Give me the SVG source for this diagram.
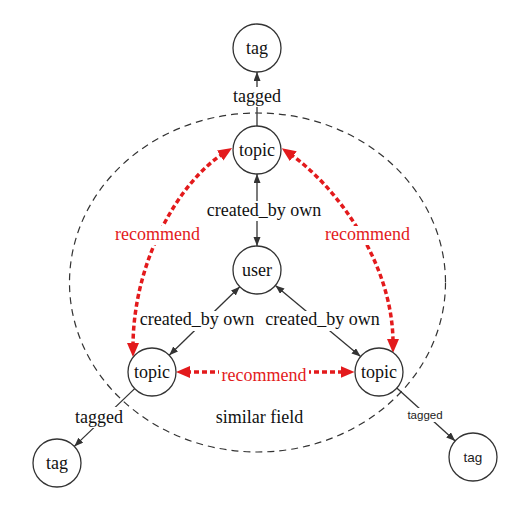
<svg xmlns="http://www.w3.org/2000/svg" width="519" height="507" viewBox="0 0 519 507">
<style>
.node circle{fill:#fff;stroke:#333;stroke-width:1.3}
.t{font-family:"Liberation Serif","Times New Roman",serif;font-size:18px;fill:#111;text-anchor:middle}
.s{font-family:"Liberation Sans",Arial,sans-serif;fill:#222;text-anchor:middle}
.red{fill:#e31a1c}
.e{stroke:#333;stroke-width:1.3;fill:none}
.r{stroke:#e31a1c;stroke-width:3.5;fill:none;stroke-dasharray:5,3}
.bg{fill:#fff}
</style>
<defs>
<marker id="a" markerUnits="userSpaceOnUse" markerWidth="10" markerHeight="8" refX="9" refY="3.5" orient="auto-start-reverse"><path d="M0,0 L9,3.5 L0,7 z" fill="#333"/></marker>
<marker id="ra" markerUnits="userSpaceOnUse" markerWidth="16" markerHeight="14" refX="4" refY="6" orient="auto-start-reverse"><path d="M0,0 L14,6 L0,12 z" fill="#e31a1c"/></marker>
</defs>
<ellipse cx="257.5" cy="282.5" rx="188" ry="169.5" fill="none" stroke="#333" stroke-width="1.2" stroke-dasharray="7,5"/>
<g id="connectors">
<path class="e" d="M257,126 L257,72" marker-end="url(#a)"/>
<path class="e" d="M257,174 L257,246" marker-start="url(#a)" marker-end="url(#a)"/>
<path class="e" d="M239.8,286.7 L169.2,355.3" marker-start="url(#a)" marker-end="url(#a)"/>
<path class="e" d="M275.4,285.4 L360.6,356.6" marker-start="url(#a)" marker-end="url(#a)"/>
<path class="e" d="M134.7,388.6 L74.3,446.4" marker-end="url(#a)"/>
<path class="e" d="M396.8,388.1 L455.2,440.9" marker-end="url(#a)"/>
<path class="r" d="M223.6,153.4 C180,181 133,260 133,347" marker-start="url(#ra)" marker-end="url(#ra)"/>
<path class="r" d="M290,154 C335,185 393,262 393,343" marker-start="url(#ra)" marker-end="url(#ra)"/>
<path class="r" d="M186,372 L344.5,372" marker-start="url(#ra)" marker-end="url(#ra)"/>
<rect class="bg" x="231" y="87" width="52" height="20"/>
<text class="t" x="257" y="102">tagged</text>
<rect class="bg" x="205" y="201" width="118" height="20"/>
<text class="t" x="264" y="216">created_by own</text>
<rect class="bg" x="138" y="311" width="118" height="20"/>
<text class="t" x="197" y="325">created_by own</text>
<rect class="bg" x="264" y="311" width="118" height="20"/>
<text class="t" x="322.5" y="325">created_by own</text>
<rect class="bg" x="113" y="226" width="89" height="19"/>
<text class="t red" x="157.5" y="240">recommend</text>
<rect class="bg" x="323" y="226" width="89" height="19"/>
<text class="t red" x="367.5" y="240">recommend</text>
<rect class="bg" x="219" y="364" width="90" height="19"/>
<text class="t red" x="264" y="381">recommend</text>
<rect class="bg" x="74" y="407" width="51" height="21"/>
<text class="t" x="99" y="423">tagged</text>
<rect class="bg" x="406" y="408" width="39" height="14"/>
<text class="s" x="425" y="419" font-size="11.5">tagged</text>
</g>
<text class="t" x="259.5" y="423">similar field</text>
<g id="tag_top" class="node"><circle cx="257" cy="48" r="24"/><text class="t" x="257" y="54">tag</text></g>
<g id="topic_top" class="node"><circle cx="257" cy="150" r="24"/><text class="t" x="257" y="156">topic</text></g>
<g id="user" class="node"><circle cx="257" cy="270" r="24"/><text class="t" x="257" y="276">user</text></g>
<g id="topic_left" class="node"><circle cx="152" cy="372" r="24"/><text class="t" x="152" y="378">topic</text></g>
<g id="topic_right" class="node"><circle cx="379" cy="372" r="24"/><text class="t" x="379" y="378">topic</text></g>
<g id="tag_left" class="node"><circle cx="57" cy="463" r="24"/><text class="t" x="57" y="469">tag</text></g>
<g id="tag_right" class="node"><circle cx="473" cy="457" r="24"/><text class="s" x="473" y="462" font-size="13.5">tag</text></g>
</svg>
